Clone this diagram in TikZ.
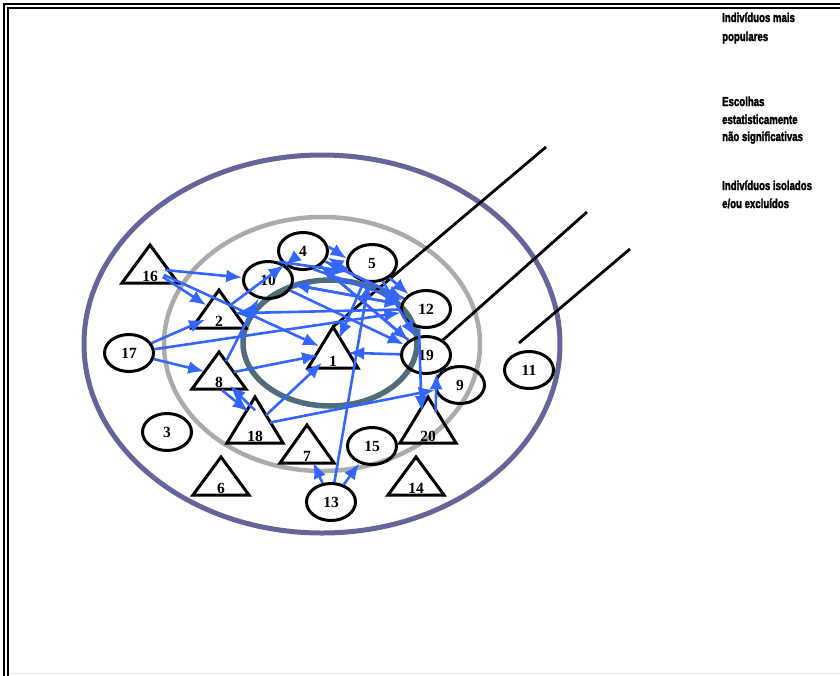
\documentclass[tikz,border=0pt]{standalone}
\usepackage{fontspec}
\usepackage{graphicx}
\setmainfont{Liberation Serif}
\newfontfamily\legfont[BoldFeatures={FakeBold=2.5}]{Liberation Sans}
\usetikzlibrary{shapes.geometric,arrows.meta}
\definecolor{outerC}{HTML}{65659B}
\definecolor{midC}{HTML}{ABABAB}
\definecolor{innerC}{HTML}{4F6D7B}
\definecolor{arrowC}{HTML}{3366FF}
\newcommand\lgtext[1]{\scalebox{0.74}[1]{#1}}
\newcommand\trig[6]{%
  \draw[tri line] (#2,#3-#5) -- (#2+#4,#3) -- (#2-#4,#3) -- cycle;
  \node[trinode] (#1) at (#2,#3-0.38*#5) {};
  \coordinate (#1-apex) at (#2,#3-#5);
  \node[lab, anchor=base] at (#2,#3-2) {#6};}
\begin{document}
\begin{tikzpicture}[x=1pt,y=-1pt,
  circ/.style={ellipse, draw=black, line width=3pt, minimum width=49pt, minimum height=37pt, inner sep=0pt, font=\fontsize{15.5}{15.5}\selectfont\bfseries},
  trinode/.style={circle, minimum size=30pt, inner sep=0pt},
  tri line/.style={draw=black, line width=3pt, line join=miter},
  lab/.style={font=\fontsize{15.5}{15.5}\selectfont\bfseries, inner sep=0pt},
  arr/.style={draw=arrowC, line width=2.6pt, -{Latex[length=16pt,width=13pt]}},
  pointer/.style={draw=black, line width=2.8pt},
  leg/.style={anchor=base west, inner sep=0pt, font=\legfont\bfseries\fontsize{13}{13}\selectfont}]
\useasboundingbox (0,0) rectangle (840,675);
\clip (0,0) rectangle (840,675);
% frame
\draw[line width=2.6pt] (4,690) -- (4,4) -- (850,4);
\draw[line width=2pt] (8,690) -- (8,8) -- (850,8);
\draw[black!8, line width=1pt] (9,673.5) -- (840,673.5);
% rings
\draw[outerC, line width=5pt] (322,344) ellipse [x radius=238, y radius=189];
\draw[midC, line width=4.5pt] (322,344) ellipse [x radius=158, y radius=127];
\draw[innerC, line width=5.5pt] (330,343) ellipse [x radius=87, y radius=63];
% circle nodes
\node[circ] (c4) at (303,251) {4};
\node[circ] (c5) at (372,263) {5};
\node[circ] (c10) at (268,280) {10};
\node[circ] (c12) at (426,309) {12};
\node[circ] (c19) at (426,355) {19};
\node[circ] (c9) at (460,385) {9};
\node[circ] (c11) at (529,370) {11};
\node[circ] (c17) at (129,353) {17};
\node[circ] (c3) at (167,432) {3};
\node[circ] (c15) at (372,446) {15};
\node[circ] (c13) at (331,502) {13};
% triangle nodes
\trig{t16}{150}{283}{28}{38}{16}
\trig{t2}{219}{328}{27}{38}{2}
\trig{t8}{219}{389}{27}{37}{8}
\trig{t18}{255}{443}{28}{46}{18}
\trig{t1}{333}{368}{25}{41}{1}
\trig{t7}{307}{463}{27}{38}{7}
\trig{t6}{221}{495}{28}{38}{6}
\trig{t14}{416}{495}{28}{38}{14}
\trig{t20}{428}{443}{28}{46}{20}
% pointer lines
\coordinate (p1) at (546,147);
\coordinate (p2) at (587,212);
\coordinate (p3) at (630,249);
\coordinate (p3e) at (519,343);
\draw[pointer] (p1) -- (t1-apex);
\draw[pointer] (p2) -- (c19);
\draw[pointer] (p3) -- (p3e);
% arrows
\draw[arr] (t16) -- (c10);
\draw[arr] (t16) -- (t2);
\draw[arr] (t16) -- (t1);
\draw[arr] (c17) -- (t2);
\draw[arr] (c17) -- (c12);
\draw[arr] (c17) -- (t8);
\draw[arr] (t8) -- (t1);
\draw[arr] (t8) -- (c10);
\draw[arr] (t8.-80) -- (t18.115);
\draw[arr] (t18.90) -- (t8.-45);
\draw[arr] (t18) -- (t1);
\draw[arr] (t18) -- (c9);
\draw[arr] (c13) -- (t7);
\draw[arr] (c13) -- (c15);
\draw[arr] (c13) -- (c5);
\draw[arr] (t20.60) -- (c19.-60);
\draw[arr] (c12.250) -- (t20.115);
\draw[arr] (c10) -- (c4);
\draw[arr] (c10) -- (c12);
\draw[arr] (c10) -- (c19);
\draw[arr] (c10.60) -- (c5.200);
\draw[arr] (c4.10) -- (c5.170);
\draw[arr] (c5.195) -- (c4.-15);
\draw[arr] (c4) -- (c12);
\draw[arr] (c4.-60) -- (c12.160);
\draw[arr] (c4) -- (c19);
\draw[arr] (c5) -- (c12);
\draw[arr] (c5) -- (c19);
\draw[arr] (c12) -- (c4);
\draw[arr] (c19) -- (c4);
\draw[arr] (c12) -- (c10);
\draw[arr] (c19) -- (t1);
\draw[arr] (c5) -- (t1);
\draw[arr] (c12) -- (t2);
\draw[arr] (t2) -- (c4);
% legend
\node[leg] (lg1) at (722,22) {\lgtext{Indivíduos mais}};
\node[leg] (lg2) at (722,41) {\lgtext{populares}};
\node[leg] (lg3) at (722,106) {\lgtext{Escolhas}};
\node[leg] (lg4) at (722,124) {\lgtext{estatisticamente}};
\node[leg] (lg5) at (722,141) {\lgtext{não significativas}};
\node[leg] (lg6) at (722,190) {\lgtext{Indivíduos isolados}};
\node[leg] (lg7) at (722,208) {\lgtext{e/ou excluídos}};
\end{tikzpicture}
\end{document}
